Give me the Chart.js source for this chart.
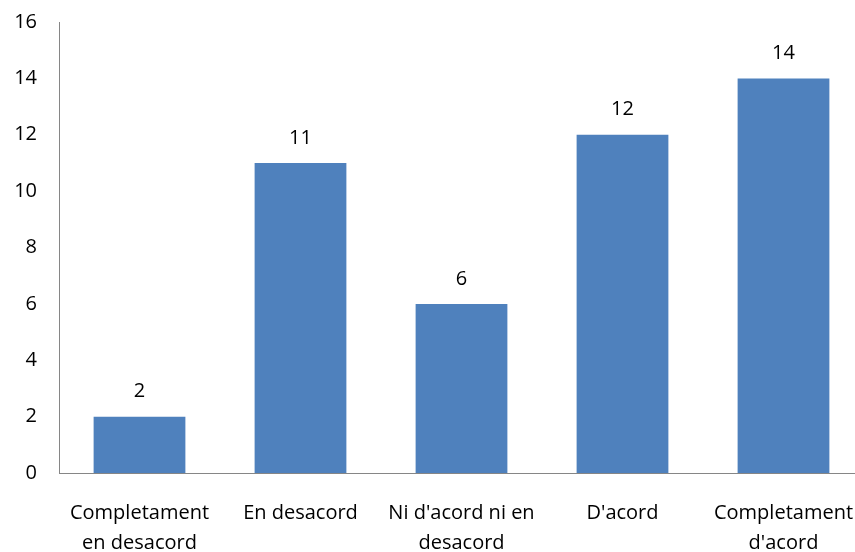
<!DOCTYPE html>
<html>
<head>
<meta charset="utf-8">
<script src="https://cdn.jsdelivr.net/npm/chart.js@4/dist/chart.umd.min.js"></script>
<style>
  html, body { margin: 0; padding: 0; background: #fff; overflow: hidden; }
  /* el llenç és una mica més ample que la finestra: l'eix X surt pel marge dret */
  #wrap { width: 864px; height: 552px; }
</style>
</head>
<body>
<div id="wrap"><canvas id="grafic"></canvas></div>
<script>
// Respostes per categoria
const categories = [
  ["Completament", "en desacord"],
  "En desacord",
  ["Ni d'acord ni en", "desacord"],
  "D'acord",
  ["Completament", "d'acord"]
];
const respostes = [2, 11, 6, 12, 14];
const marquesY = [0, 2, 4, 6, 8, 10, 12, 14, 16];

const font = "Open Sans, Liberation Sans, sans-serif";

// Etiqueta amb el valor sobre cada barra
const etiquetes = {
  id: "etiquetes",
  afterDatasetsDraw(chart) {
    const ctx = chart.ctx;
    const meta = chart.getDatasetMeta(0);
    ctx.save();
    ctx.font = "20px " + font;
    ctx.fillStyle = "#000";
    ctx.textAlign = "center";
    ctx.textBaseline = "middle";
    meta.data.forEach((bar, i) => {
      ctx.fillText(String(respostes[i]), bar.x, bar.y - 25);
    });
    ctx.restore();
  }
};

new Chart(document.getElementById("grafic"), {
  type: "bar",
  data: {
    labels: categories,
    datasets: [{
      data: respostes,
      backgroundColor: "#4F81BD",
      categoryPercentage: 1,
      barPercentage: 0.57
    }]
  },
  options: {
    responsive: true,
    maintainAspectRatio: false,
    animation: false,
    layout: { padding: { top: 22, right: 0, left: 0, bottom: 0 } },
    plugins: { legend: { display: false }, tooltip: { enabled: false } },
    scales: {
      x: {
        grid: { display: false, drawTicks: false },
        border: { color: "#868686", width: 1 },
        ticks: {
          color: "#000",
          font: { family: font, size: 20, lineHeight: 1.5 },
          padding: 25,
          maxRotation: 0,
          autoSkip: false
        },
        afterFit(s) {
          s.height = 79;
          s.paddingLeft = 0;
          s.paddingRight = 0;
        }
      },
      y: {
        min: 0,
        max: 16,
        afterBuildTicks(s) { s.ticks = marquesY.map(v => ({ value: v })); },
        grid: { display: false, drawTicks: false },
        border: { color: "#868686", width: 1 },
        ticks: {
          color: "#000",
          font: { family: font, size: 20, lineHeight: 1.2 },
          padding: 22
        },
        afterFit(s) {
          s.width = 59;
          s.paddingTop = 0;
          s.paddingBottom = 0;
        }
      }
    }
  },
  plugins: [etiquetes]
});
</script>
</body>
</html>
